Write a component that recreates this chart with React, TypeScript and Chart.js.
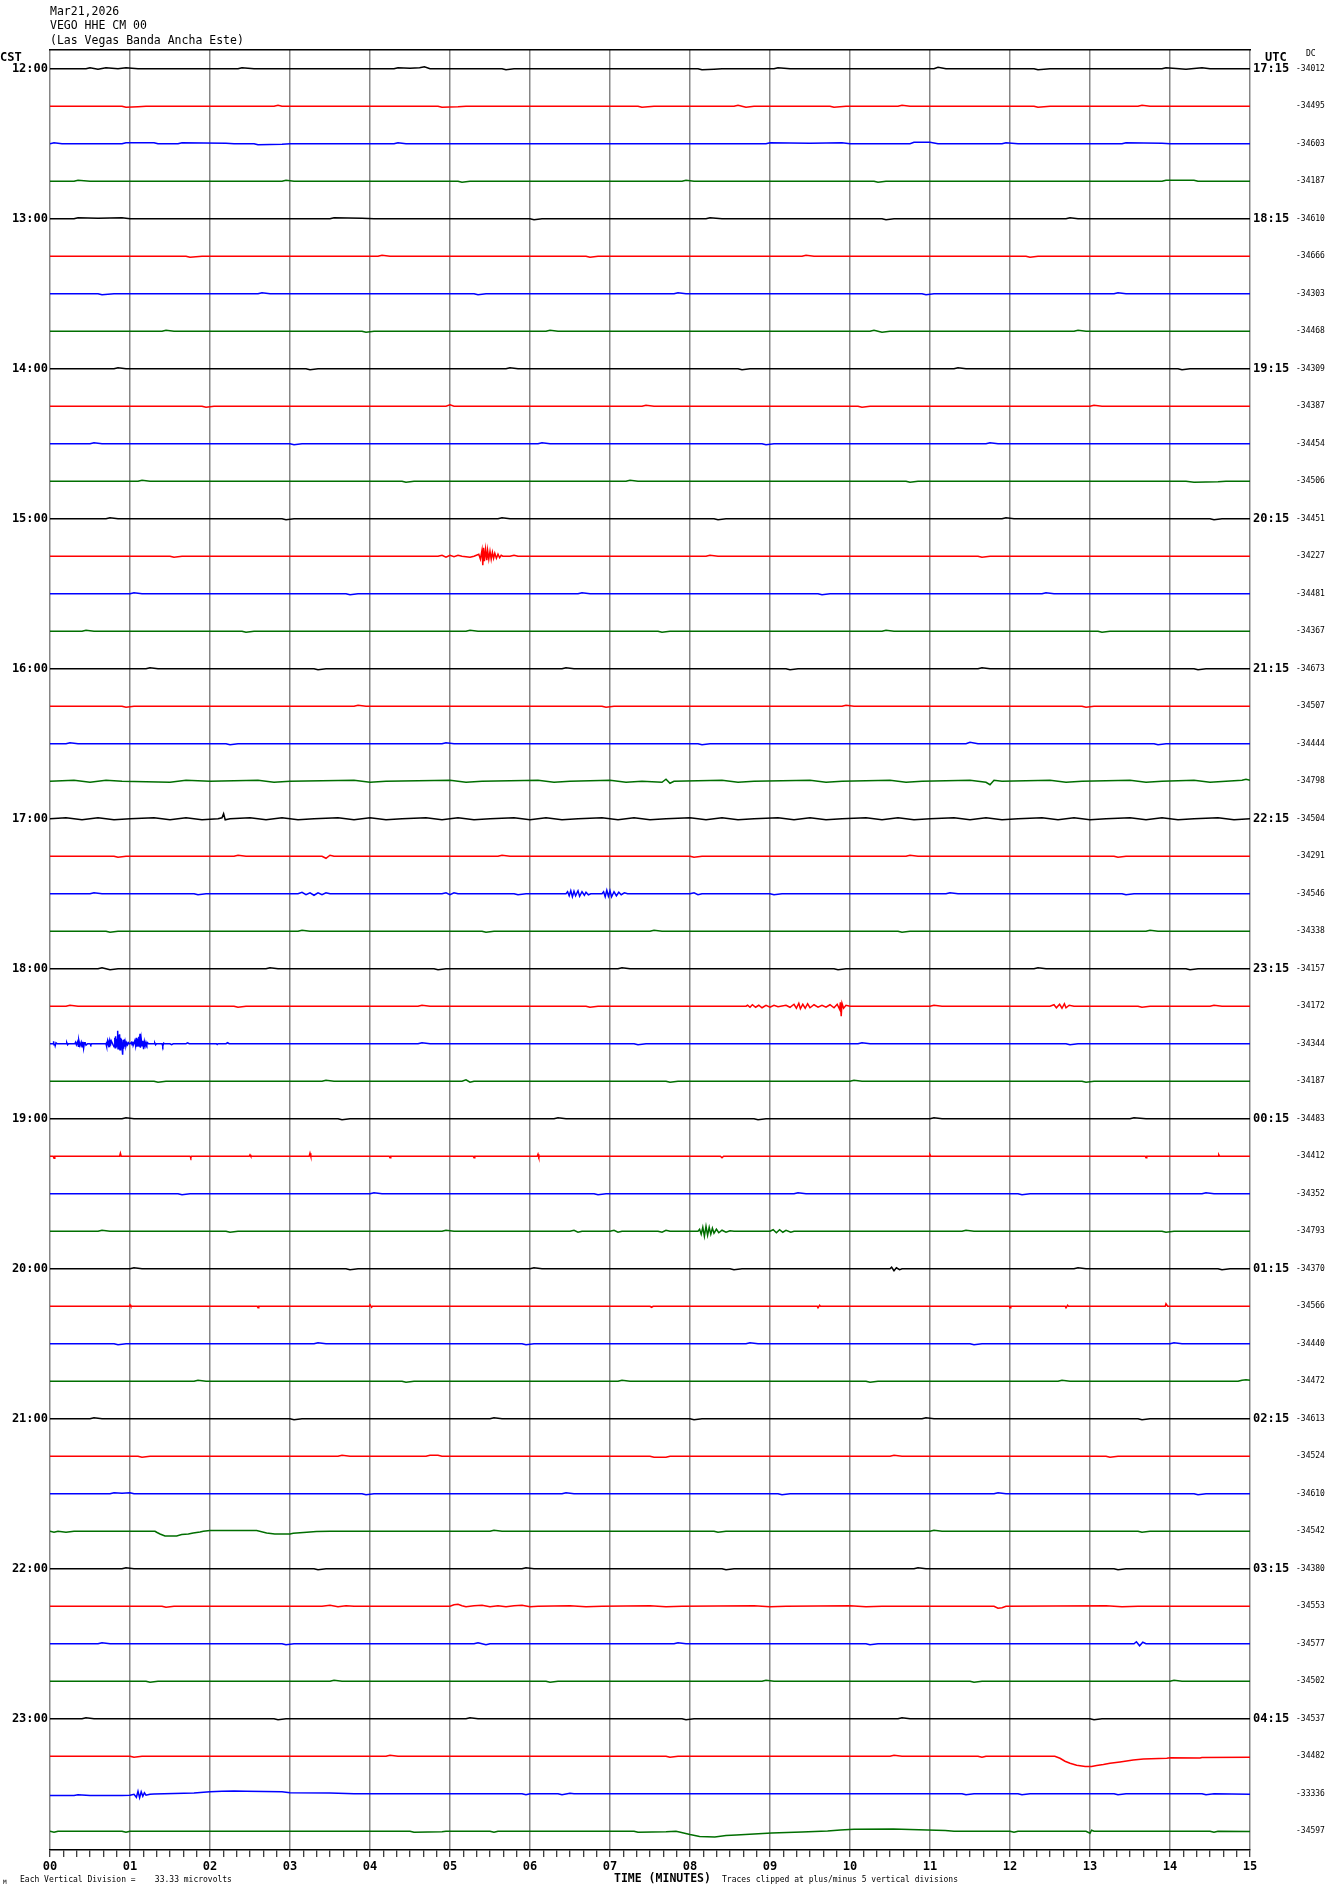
import React, { useEffect, useRef } from "react";
import { Chart, registerables } from "chart.js";

Chart.register(...registerables);

const TITLE_LINES = ["Mar21,2026", "VEGO HHE CM 00", "(Las Vegas Banda Ancha Este)"];
const CST_HOURS = ["12:00", "13:00", "14:00", "15:00", "16:00", "17:00", "18:00", "19:00", "20:00", "21:00", "22:00", "23:00"];
const UTC_HOURS = ["17:15", "18:15", "19:15", "20:15", "21:15", "22:15", "23:15", "00:15", "01:15", "02:15", "03:15", "04:15"];
const DC_VALUES = [
  "-34012", "-34495", "-34603", "-34187",
  "-34610", "-34666", "-34303", "-34468",
  "-34309", "-34387", "-34454", "-34506",
  "-34451", "-34227", "-34481", "-34367",
  "-34673", "-34507", "-34444", "-34798",
  "-34504", "-34291", "-34546", "-34338",
  "-34157", "-34172", "-34344", "-34187",
  "-34483", "-34412", "-34352", "-34793",
  "-34370", "-34566", "-34440", "-34472",
  "-34613", "-34524", "-34610", "-34542",
  "-34380", "-34553", "-34577", "-34502",
  "-34537", "-34482", "-33336", "-34597",
];
const MINUTE_LABELS = ["00", "01", "02", "03", "04", "05", "06", "07", "08", "09", "10", "11", "12", "13", "14", "15"];
const TRACE_COLORS = ["#000000", "#ff0000", "#0000ff", "#006e00"];
const COUNTS_PER_ROW = 37.5;

// Each trace: flat list of [minute, deviation] pairs read from the helicorder
const TRACE_00 = [0,0, 0.45,0, 0.5,1, 0.6,-0.5, 0.7,1, 0.85,0, 0.95,1, 1.1,0, 2.35,0, 2.4,1, 2.55,0, 4.3,0, 4.35,1, 4.5,0.5, 4.62,1, 4.68,2, 4.75,0, 5.65,0, 5.7,-1, 5.8,0, 8.1,0, 8.15,-1, 8.3,-0.5, 8.4,0, 9.05,0, 9.1,1, 9.25,0, 11.05,0, 11.1,1.5, 11.2,0, 12.3,0, 12.35,-1, 12.5,0, 13.9,0, 13.95,1, 14.2,-0.5, 14.4,1, 14.5,0, 15,0];
const TRACE_01 = [0,0, 0.9,0, 0.95,-1, 1.1,-0.5, 1.2,0, 2.8,0, 2.85,1, 2.9,0, 4.85,0, 4.9,-1, 5.1,-0.5, 5.2,0, 7.35,0, 7.4,-1, 7.55,0, 8.55,0, 8.6,1, 8.7,-1, 8.8,0, 9.75,0, 9.8,-1, 9.95,0, 10.6,0, 10.65,1, 10.75,0, 12.3,0, 12.35,-1, 12.5,0, 13.6,0, 13.65,1, 13.75,0, 15,0];
const TRACE_02 = [0,0, 0.05,1, 0.15,0, 0.9,0, 0.95,1, 1.3,1, 1.35,0, 1.6,0, 1.65,1, 2.2,0.5, 2.3,0, 2.55,0, 2.6,-1, 2.9,-0.5, 3.0,0, 4.3,0, 4.35,1, 4.45,0, 8.95,0, 9.0,1, 9.5,0.5, 9.9,1, 10.0,0, 10.75,0, 10.8,1.5, 11.0,1.5, 11.1,0, 11.9,0, 11.95,1, 12.1,0, 13.4,0, 13.45,1, 13.9,0.5, 14.0,0, 15,0];
const TRACE_03 = [0,0, 0.3,0, 0.35,1, 0.5,0, 2.9,0, 2.95,1, 3.05,0, 5.1,0, 5.15,-1, 5.25,0, 7.9,0, 7.95,1, 8.05,0, 10.3,0, 10.35,-1, 10.45,0, 13.9,0, 13.95,1, 14.3,1, 14.35,0, 15,0];
const TRACE_04 = [0,0, 0.3,0, 0.35,1, 0.6,0.5, 0.9,1, 1.0,0, 3.5,0, 3.55,1, 3.9,0.5, 4.05,0, 6.0,0, 6.05,-1, 6.15,0, 8.2,0, 8.25,1, 8.4,0, 10.4,0, 10.45,-1, 10.55,0, 12.7,0, 12.75,1, 12.85,0, 15,0];
const TRACE_05 = [0,0, 1.7,0, 1.75,-1, 1.9,0, 4.1,0, 4.15,1, 4.25,0, 6.7,0, 6.75,-1, 6.85,0, 9.4,0, 9.45,1, 9.55,0, 12.2,0, 12.25,-1, 12.35,0, 15,0];
const TRACE_06 = [0,0, 0.6,0, 0.65,-1, 0.8,0, 2.6,0, 2.65,1, 2.75,0, 5.3,0, 5.35,-1, 5.45,0, 7.8,0, 7.85,1, 7.95,0, 10.9,0, 10.95,-1, 11.05,0, 13.3,0, 13.35,1, 13.45,0, 15,0];
const TRACE_07 = [0,0, 1.4,0, 1.45,1, 1.55,0, 3.9,0, 3.95,-1, 4.05,0, 6.2,0, 6.25,1, 6.35,0, 10.25,0, 10.3,1, 10.4,-1, 10.5,0, 12.8,0, 12.85,1, 12.95,0, 15,0];
const TRACE_08 = [0,0, 0.8,0, 0.85,1, 0.95,0, 3.2,0, 3.25,-1, 3.35,0, 5.7,0, 5.75,1, 5.85,0, 8.6,0, 8.65,-1, 8.75,0, 11.3,0, 11.35,1, 11.45,0, 14.1,0, 14.15,-1, 14.25,0, 15,0];
const TRACE_09 = [0,0, 1.9,0, 1.95,-1, 2.05,0, 4.95,0, 5.0,1.5, 5.05,0, 7.4,0, 7.45,1, 7.55,0, 10.1,0, 10.15,-1, 10.25,0, 13.0,0, 13.05,1, 13.15,0, 15,0];
const TRACE_10 = [0,0, 0.5,0, 0.55,1, 0.65,0, 3.0,0, 3.05,-1, 3.15,0, 6.1,0, 6.15,1, 6.25,0, 8.9,0, 8.95,-1, 9.05,0, 11.7,0, 11.75,1, 11.85,0, 15,0];
const TRACE_11 = [0,0, 1.1,0, 1.15,1, 1.25,0, 4.4,0, 4.45,-1, 4.55,0, 7.2,0, 7.25,1, 7.35,0, 10.7,0, 10.75,-1, 10.85,0, 14.2,0, 14.3,-1, 14.6,-0.5, 14.7,0, 15,0];
const TRACE_12 = [0,0, 0.7,0, 0.75,1, 0.85,0, 2.9,0, 2.95,-1, 3.05,0, 5.6,0, 5.65,1, 5.75,0, 8.3,0, 8.35,-1, 8.45,0, 11.9,0, 11.95,1, 12.05,0, 14.5,0, 14.55,-1, 14.65,0, 15,0];
const TRACE_13 = [0,0, 1.5,0, 1.55,-1, 1.65,0, 4.85,0, 4.9,1, 4.95,-1, 5.0,1, 5.05,-0.5, 5.1,1, 5.15,0, 5.25,-1, 5.3,0, 5.36,2, 5.38,-3, 5.40,6, 5.41,-9, 5.42,8.5, 5.43,-5, 5.445,7, 5.46,-4, 5.47,6, 5.485,-3, 5.50,5, 5.515,-3, 5.53,4, 5.545,-2, 5.56,3, 5.58,-2, 5.60,2, 5.62,-1.5, 5.64,1, 5.66,0, 5.75,0, 5.8,1, 5.85,0, 8.2,0, 8.25,1, 8.35,0, 11.6,0, 11.65,-1, 11.75,0, 15,0];
const TRACE_14 = [0,0, 1.0,0, 1.05,1, 1.15,0, 3.7,0, 3.75,-1, 3.85,0, 6.6,0, 6.65,1, 6.75,0, 9.6,0, 9.65,-1, 9.75,0, 12.4,0, 12.45,1, 12.55,0, 15,0];
const TRACE_15 = [0,0, 0.4,0, 0.45,1, 0.55,0, 2.4,0, 2.45,-1, 2.55,0, 5.2,0, 5.25,1, 5.35,0, 7.6,0, 7.65,-1, 7.75,0, 10.4,0, 10.45,1, 10.55,0, 13.1,0, 13.15,-1, 13.25,0, 15,0];
const TRACE_16 = [0,0, 1.2,0, 1.25,1, 1.35,0, 3.3,0, 3.35,-1, 3.45,0, 6.4,0, 6.45,1, 6.55,0, 9.2,0, 9.25,-1, 9.35,0, 11.6,0, 11.65,1, 11.75,0, 14.3,0, 14.35,-1, 14.45,0, 15,0];
const TRACE_17 = [0,0, 0.9,0, 0.95,-1, 1.05,0, 3.8,0, 3.85,1, 3.95,0, 6.9,0, 6.95,-1, 7.05,0, 9.9,0, 9.95,1, 10.05,0, 12.9,0, 12.95,-1, 13.05,0, 15,0];
const TRACE_18 = [0,0, 0.2,0, 0.25,1, 0.35,0, 2.2,0, 2.25,-1, 2.35,0, 4.9,0, 4.95,1, 5.05,0, 8.1,0, 8.15,-1, 8.25,0, 11.45,0, 11.5,1.5, 11.6,0, 13.8,0, 13.85,-1, 13.95,0, 15,0];
const TRACE_19 = [0,0, 0.3,1, 0.5,-1, 0.7,1, 0.9,0, 1.5,-1, 1.7,1, 2.0,0, 2.6,1, 2.8,-1, 3.0,0, 3.8,1, 4.0,-1, 4.2,0, 5.0,1, 5.2,-1, 5.4,0, 6.1,1, 6.3,-1, 6.5,0, 7.0,1, 7.2,-1, 7.4,0, 7.65,-1, 7.7,2, 7.75,-2, 7.8,0, 8.4,1, 8.6,-1, 8.8,0, 9.5,1, 9.7,-1, 9.9,0, 10.5,1, 10.7,-1, 10.9,0, 11.5,1, 11.7,-1, 11.75,-3.5, 11.8,1, 11.9,0, 12.5,1, 12.7,-1, 12.9,0, 13.5,1, 13.7,-1, 13.9,0, 14.3,1, 14.5,-1, 14.7,0, 14.9,1, 14.95,2, 15,1];
const TRACE_20 = [0,0, 0.2,1, 0.4,-1, 0.6,1, 0.8,-1, 1.0,0, 1.3,1, 1.5,-1, 1.7,1, 1.9,-1, 2.1,0, 2.15,1, 2.17,5, 2.19,-1, 2.25,0, 2.5,1, 2.7,-1, 2.9,1, 3.1,-1, 3.3,0, 3.6,1, 3.8,-1, 4.0,1, 4.2,-1, 4.4,0, 4.7,1, 4.9,-1, 5.1,1, 5.3,-1, 5.5,0, 5.8,1, 6.0,-1, 6.2,1, 6.4,-1, 6.6,0, 6.9,1, 7.1,-1, 7.3,1, 7.5,-1, 7.7,0, 8.0,1, 8.2,-1, 8.4,1, 8.6,-1, 8.8,0, 9.1,1, 9.3,-1, 9.5,1, 9.7,-1, 9.9,0, 10.2,1, 10.4,-1, 10.6,1, 10.8,-1, 11.0,0, 11.3,1, 11.5,-1, 11.7,1, 11.9,-1, 12.1,0, 12.4,1, 12.6,-1, 12.8,1, 13.0,-1, 13.2,0, 13.5,1, 13.7,-1, 13.9,1, 14.1,-1, 14.3,0, 14.6,1, 14.8,-1, 15,0];
const TRACE_21 = [0,0, 0.8,0, 0.85,-1, 0.95,0, 2.3,0, 2.35,1, 2.45,0, 3.4,0, 3.45,-2, 3.5,1, 3.55,0, 5.6,0, 5.65,1, 5.75,0, 8.0,0, 8.05,-1, 8.15,0, 10.7,0, 10.75,1, 10.85,0, 13.3,0, 13.35,-1, 13.45,0, 15,0];
const TRACE_22 = [0,0, 0.5,0, 0.55,1, 0.65,0, 1.8,0, 1.85,-1, 1.95,0, 3.1,0, 3.15,1.5, 3.2,-1, 3.25,1, 3.3,-1.5, 3.35,1, 3.4,-1, 3.45,1, 3.5,0, 4.9,0, 4.95,1, 5.0,-1, 5.05,1, 5.1,0, 5.8,0, 5.85,-1, 5.95,0, 6.45,0, 6.47,2, 6.49,-2, 6.51,3, 6.53,-3, 6.55,2.5, 6.57,-2, 6.6,3, 6.62,-2.5, 6.65,2, 6.68,-1.5, 6.7,1.5, 6.73,-1, 6.76,0, 6.9,0, 6.92,2, 6.94,-3, 6.96,3.5, 6.98,-2.5, 7.0,3, 7.02,-3, 7.05,2, 7.08,-2, 7.11,1.5, 7.14,-1, 7.18,1, 7.22,0, 8.0,0, 8.05,1, 8.1,-1, 8.15,0, 9.0,0, 9.05,-1, 9.15,0, 11.2,0, 11.25,1, 11.35,0, 13.4,0, 13.45,-1, 13.55,0, 15,0];
const TRACE_23 = [0,0, 0.7,0, 0.75,-1, 0.85,0, 3.1,0, 3.15,1, 3.25,0, 5.4,0, 5.45,-1, 5.55,0, 7.5,0, 7.55,1, 7.65,0, 10.6,0, 10.65,-1, 10.75,0, 13.7,0, 13.75,1, 13.85,0, 15,0];
const TRACE_24 = [0,0, 0.6,0, 0.65,1, 0.75,-1, 0.85,0, 2.7,0, 2.75,1, 2.85,0, 4.8,0, 4.85,-1, 4.95,0, 7.1,0, 7.15,1, 7.25,0, 9.8,0, 9.85,-1, 9.95,0, 12.3,0, 12.35,1, 12.45,0, 14.2,0, 14.25,-1, 14.35,0, 15,0];
const TRACE_25 = [0,0, 0.2,0, 0.25,1, 0.35,0, 2.3,0, 2.35,-1, 2.45,0, 4.6,0, 4.65,1, 4.75,0, 6.7,0, 6.75,-1, 6.85,0, 8.7,0, 8.72,1, 8.75,-1, 8.78,1.5, 8.82,-1, 8.86,1, 8.9,-1.5, 8.95,1, 9.0,-1, 9.05,1, 9.1,-0.5, 9.2,1, 9.25,-1, 9.3,2, 9.33,-2, 9.36,3, 9.38,-2.5, 9.41,2, 9.44,-2, 9.47,2.5, 9.5,-1.5, 9.55,1.5, 9.6,-1, 9.65,1, 9.7,-1, 9.75,1.5, 9.8,-1.5, 9.84,2, 9.87,-3, 9.88,4, 9.89,-10, 9.9,3, 9.92,-2, 9.95,1, 10.0,0, 11.0,0, 11.05,1, 11.15,0, 12.5,0, 12.55,1.5, 12.58,-1.5, 12.62,2, 12.65,-2, 12.68,2.5, 12.7,-1.5, 12.74,1, 12.8,0, 13.6,0, 13.65,-1, 13.75,0, 14.5,0, 14.55,1, 14.65,0, 15,0];
const TRACE_26 = [0,0, 0.04,0, 0.045,2.5, 0.05,-1, 0.06,0, 0.065,-2, 0.075,1, 0.09,0, 0.2,0, 0.21,1, 0.22,-1, 0.23,0, 0.31,0, 0.32,1.5, 0.33,-1, 0.345,2, 0.355,-2.5, 0.36,3.5, 0.375,-2, 0.39,1.5, 0.40,-3, 0.41,2, 0.42,-4.5, 0.43,1, 0.44,1, 0.45,-1.5, 0.47,0, 0.50,0, 0.51,-1, 0.52,0, 0.70,0, 0.705,2, 0.71,-2.5, 0.72,3, 0.73,-1, 0.74,2.5, 0.745,-3.5, 0.75,4, 0.755,-2, 0.765,3, 0.80,-3, 0.81,6, 0.815,-4, 0.82,7.5, 0.825,-3, 0.83,5, 0.84,-2, 0.846,13, 0.85,-5, 0.855,9, 0.86,-4, 0.87,9.5, 0.875,-6, 0.88,6, 0.885,-4, 0.89,5, 0.9,-3, 0.908,-11, 0.915,4, 0.92,-5, 0.925,3, 0.93,4.5, 0.935,-3, 0.94,2, 0.95,-2, 0.96,1, 0.97,-1, 0.98,1, 0.99,0, 1.0,0, 1.02,1.5, 1.025,-1, 1.035,2, 1.04,-1.5, 1.06,3, 1.07,-2, 1.08,6, 1.085,-3, 1.09,5, 1.1,-2, 1.11,7, 1.115,-3, 1.125,10, 1.13,-4, 1.14,5, 1.15,-2, 1.16,3, 1.17,-5.5, 1.18,2, 1.19,-2, 1.2,1.5, 1.21,-1, 1.22,1, 1.23,0, 1.3,0, 1.31,0.8, 1.32,-1, 1.33,0, 1.40,0, 1.41,-2.3, 1.42,0.5, 1.43,0, 1.5,0, 1.52,-0.8, 1.54,0, 1.7,0, 1.72,0.8, 1.74,0, 2.08,0, 2.09,-0.8, 2.1,0, 2.2,0, 2.22,1, 2.24,0, 4.6,0, 4.65,1, 4.75,0, 7.3,0, 7.35,-1, 7.45,0, 10.1,0, 10.15,1, 10.25,0, 12.7,0, 12.75,-1, 12.85,0, 15,0];
const TRACE_27 = [0,0, 1.3,0, 1.35,-1, 1.45,0, 3.4,0, 3.45,1, 3.55,0, 5.15,0, 5.2,1.5, 5.25,-1, 5.3,0, 7.7,0, 7.75,-1, 7.85,0, 10.0,0, 10.05,1, 10.15,0, 12.9,0, 12.95,-1, 13.05,0, 15,0];
const TRACE_28 = [0,0, 0.9,0, 0.95,1, 1.05,0, 3.6,0, 3.65,-1, 3.75,0, 6.3,0, 6.35,1, 6.45,0, 8.8,0, 8.85,-1, 8.95,0, 11.0,0, 11.05,1, 11.15,0, 13.5,0, 13.55,1, 13.7,0, 15,0];
const TRACE_29 = [0,0, 0.04,0, 0.05,-2, 0.06,0, 0.87,0, 0.88,3, 0.89,0, 1.75,0, 1.76,-1.5, 1.77,0, 2.49,0, 2.5,1.5, 2.51,0, 3.24,0, 3.25,3, 3.26,0, 4.24,0, 4.25,-1.5, 4.26,0, 5.29,0, 5.3,-1.5, 5.31,0, 6.09,0, 6.1,2, 6.11,-1, 6.12,0, 8.38,0, 8.4,-1.5, 8.42,0, 10.99,0, 11.0,1.5, 11.01,0, 13.69,0, 13.7,-1.5, 13.71,0, 14.6,0, 14.61,1.5, 14.62,0, 15,0];
const TRACE_30 = [0,0, 1.6,0, 1.65,-1, 1.75,0, 4.0,0, 4.05,1, 4.15,0, 6.8,0, 6.85,-1, 6.95,0, 9.3,0, 9.35,1, 9.45,0, 12.1,0, 12.15,-1, 12.25,0, 14.4,0, 14.45,1, 14.55,0, 15,0];
const TRACE_31 = [0,0, 0.6,0, 0.65,1, 0.75,0, 2.2,0, 2.25,-1, 2.35,0, 4.9,0, 4.95,1, 5.05,0, 6.5,0, 6.55,1, 6.6,-1, 6.65,0, 7.0,0, 7.05,1, 7.1,-1, 7.15,0, 7.6,0, 7.65,-1, 7.7,1, 7.75,0, 8.1,0, 8.12,2, 8.14,-3, 8.16,4, 8.18,-5, 8.2,5, 8.22,-4, 8.24,4, 8.26,-3, 8.28,3, 8.3,-2, 8.33,2, 8.36,-1.5, 8.4,1, 8.45,-1, 8.5,0.5, 8.55,0, 9.0,0, 9.04,1.5, 9.08,-1.5, 9.12,1.5, 9.16,-1, 9.2,1, 9.26,-1, 9.3,0, 11.4,0, 11.45,1, 11.55,0, 13.9,0, 13.95,-1, 14.05,0, 15,0];
const TRACE_32 = [0,0, 1.0,0, 1.05,1, 1.15,0, 3.7,0, 3.75,-1, 3.85,0, 6.0,0, 6.05,1, 6.15,0, 8.5,0, 8.55,-1, 8.65,0, 10.5,0, 10.52,1.5, 10.55,-2, 10.58,1, 10.62,-1, 10.65,0, 12.8,0, 12.85,1, 12.95,0, 14.6,0, 14.65,-1, 14.75,0, 15,0];
const TRACE_33 = [0,0, 0.99,0, 1.0,1.5, 1.01,0, 2.59,0, 2.6,-1.5, 2.61,0, 3.99,0, 4.0,1.5, 4.02,-1, 4.03,0, 7.5,0, 7.52,-1, 7.54,0, 9.59,0, 9.6,-1.5, 9.62,1, 9.63,0, 11.99,0, 12.0,-1.5, 12.01,0, 12.69,0, 12.7,-1.5, 12.72,1, 12.73,0, 13.94,0, 13.95,2.5, 13.97,0, 15,0];
const TRACE_34 = [0,0, 0.8,0, 0.85,-1, 0.95,0, 3.3,0, 3.35,1, 3.45,0, 5.9,0, 5.95,-1, 6.05,0, 8.7,0, 8.75,1, 8.85,0, 11.5,0, 11.55,-1, 11.65,0, 14.0,0, 14.05,1, 14.15,0, 15,0];
const TRACE_35 = [0,0, 1.8,0, 1.85,1, 1.95,0, 4.4,0, 4.45,-1, 4.55,0, 7.1,0, 7.15,1, 7.25,0, 10.2,0, 10.25,-1, 10.35,0, 12.6,0, 12.65,1, 12.75,0, 14.85,0, 14.9,1, 14.95,1.5, 15,1];
const TRACE_36 = [0,0, 0.5,0, 0.55,1, 0.65,0, 3.0,0, 3.05,-1, 3.15,0, 5.5,0, 5.55,1, 5.65,0, 8.0,0, 8.05,-1, 8.15,0, 10.9,0, 10.95,1, 11.05,0, 13.6,0, 13.65,-1, 13.75,0, 15,0];
const TRACE_37 = [0,0, 1.1,0, 1.15,-1, 1.25,0, 3.6,0, 3.65,1, 3.75,0, 4.7,0, 4.75,1, 4.85,1, 4.9,0, 7.5,0, 7.55,-1, 7.7,-1, 7.75,0, 10.5,0, 10.55,1, 10.65,0, 13.2,0, 13.25,-1, 13.35,0, 15,0];
const TRACE_38 = [0,0, 0.75,0, 0.8,1, 0.9,0.5, 1.0,1, 1.05,0, 3.9,0, 3.95,-1, 4.05,0, 6.4,0, 6.45,1, 6.55,0, 9.1,0, 9.15,-1, 9.25,0, 11.8,0, 11.85,1, 11.95,0, 14.3,0, 14.35,-1, 14.45,0, 15,0];
const TRACE_39 = [0,0, 0.05,-1, 0.1,0, 0.2,-1, 0.3,0, 1.3125,0, 1.333,-1, 1.375,-2.7, 1.4375,-4.7, 1.583,-4.7, 1.646,-3.3, 1.729,-2.7, 1.79,-1.7, 1.875,-0.7, 1.917,0, 2.0,0.7, 2.583,0.7, 2.708,-1.7, 2.81,-2.7, 3.0,-2.7, 3.04,-2, 3.21,-1, 3.33,-0.3, 3.5,0, 5.5,0, 5.55,1, 5.65,0, 8.3,0, 8.35,-1, 8.45,0, 11.0,0, 11.05,1, 11.15,0, 13.6,0, 13.65,-1, 13.75,0, 15,0];
const TRACE_40 = [0,0, 0.9,0, 0.95,1, 1.05,0, 3.3,0, 3.35,-1, 3.45,0, 5.9,0, 5.95,1, 6.05,0, 8.4,0, 8.45,-1, 8.55,0, 10.8,0, 10.85,1, 10.95,0, 13.3,0, 13.35,-1, 13.45,0, 15,0];
const TRACE_41 = [0,0, 1.4,0, 1.45,-1, 1.55,0, 3.4,0, 3.5,1, 3.6,-0.5, 3.7,0.5, 3.8,0, 5.0,0, 5.05,1.5, 5.1,2, 5.15,0.5, 5.2,-0.5, 5.3,0.5, 5.4,1, 5.5,-0.5, 5.6,0.5, 5.7,-0.5, 5.8,0.5, 5.9,1, 6.0,-0.5, 6.1,0, 6.5,0.5, 6.7,-0.5, 6.9,0, 7.5,0.5, 7.7,-0.5, 7.9,0, 8.8,0.5, 9.0,-0.5, 9.2,0, 10.0,0.5, 10.2,-0.5, 10.4,0, 11.8,0, 11.85,-2, 11.9,-1.5, 11.95,0, 13.2,0.5, 13.4,-0.5, 13.6,0, 15,0];
const TRACE_42 = [0,0, 0.6,0, 0.65,1, 0.75,0, 2.9,0, 2.95,-1, 3.05,0, 5.3,0, 5.35,1, 5.45,-1, 5.5,0, 7.8,0, 7.85,1, 7.95,0, 10.2,0, 10.25,-1, 10.35,0, 13.55,0, 13.58,2, 13.62,-2, 13.66,1.5, 13.7,0, 15,0];
const TRACE_43 = [0,0, 1.2,0, 1.25,-1, 1.35,0, 3.5,0, 3.55,1, 3.65,0, 6.2,0, 6.25,-1, 6.35,0, 8.9,0, 8.95,1, 9.05,0, 11.5,0, 11.55,-1, 11.65,0, 14.0,0, 14.05,1, 14.15,0, 15,0];
const TRACE_44 = [0,0, 0.4,0, 0.45,1, 0.55,0, 2.8,0, 2.85,-1, 2.95,0, 5.2,0, 5.25,1, 5.35,0, 7.9,0, 7.95,-1, 8.05,0, 10.6,0, 10.65,1, 10.75,0, 13.0,0, 13.05,-1, 13.15,0, 15,0];
const TRACE_45 = [0,0, 1.0,0, 1.05,-1, 1.15,0, 4.2,0, 4.25,1, 4.35,0, 7.7,0, 7.75,-1, 7.85,0, 10.5,0, 10.55,1, 10.65,0, 11.6,0, 11.65,-1, 11.7,0, 12.56,0, 12.625,-2, 12.6875,-5, 12.75,-7, 12.833,-9, 12.94,-10.3, 13.02,-10.3, 13.083,-9.3, 13.167,-8.3, 13.25,-7, 13.375,-5.7, 13.54,-3.7, 13.667,-2.7, 13.96,-2, 14.0,-1.5, 14.375,-1.7, 14.4,-1.2, 15,-1];
const TRACE_46 = [0,-1.7, 0.3,-1.7, 0.35,-1, 0.5,-1.7, 0.9,-1.7, 1.0,-1.5, 1.05,-0.5, 1.08,-3.5, 1.1,2.5, 1.12,-4, 1.14,2, 1.16,-2.5, 1.18,1, 1.2,-1.5, 1.25,-0.5, 1.3,-0.3, 1.8,0.7, 2.0,2, 2.15,2.5, 2.3,2.8, 2.45,2.5, 2.9,2, 3.0,1, 3.5,0.8, 3.8,0, 5.9,0, 5.95,-1, 6.0,0, 6.35,0, 6.4,-1, 6.5,0.5, 6.55,0, 11.4,0, 11.45,-1, 11.55,0, 12.1,0, 12.15,-1, 12.25,0, 13.3,0, 13.35,-1, 13.45,0, 14.4,0, 14.45,-1, 14.55,0, 15,-0.5];
const TRACE_47 = [0,0, 0.05,-1, 0.1,0, 0.9,0, 0.95,-1, 1.0,0, 4.5,0, 4.55,-1, 4.9,-0.5, 4.95,0, 5.5,0, 5.55,-1, 5.6,0, 7.3,0, 7.35,-1, 7.7,-0.5, 7.825,0, 7.88,-1, 8.0,-3.3, 8.12,-5.3, 8.31,-5.7, 8.45,-4.3, 8.58,-3.7, 9.02,-1.7, 9.4,-0.7, 9.72,0.3, 9.88,1.3, 10.05,2, 10.54,2.3, 10.75,1.7, 11.19,0.7, 11.3,0, 12.0,0, 12.05,-1, 12.1,0, 12.95,0, 13.0,-2, 13.02,1, 13.05,0, 14.5,0, 14.55,-1, 14.6,0, 15,-0.3];

const TRACES = [
  TRACE_00, TRACE_01, TRACE_02, TRACE_03, TRACE_04, TRACE_05, TRACE_06, TRACE_07,
  TRACE_08, TRACE_09, TRACE_10, TRACE_11, TRACE_12, TRACE_13, TRACE_14, TRACE_15,
  TRACE_16, TRACE_17, TRACE_18, TRACE_19, TRACE_20, TRACE_21, TRACE_22, TRACE_23,
  TRACE_24, TRACE_25, TRACE_26, TRACE_27, TRACE_28, TRACE_29, TRACE_30, TRACE_31,
  TRACE_32, TRACE_33, TRACE_34, TRACE_35, TRACE_36, TRACE_37, TRACE_38, TRACE_39,
  TRACE_40, TRACE_41, TRACE_42, TRACE_43, TRACE_44, TRACE_45, TRACE_46, TRACE_47,
];

const FONT = "'DejaVu Sans Mono', 'Liberation Mono', monospace";

function toPoints(flat: number[], row: number) {
  const pts: { x: number; y: number }[] = [];
  for (let k = 0; k + 1 < flat.length; k += 2) {
    pts.push({ x: flat[k], y: row + 0.5 - flat[k + 1] / COUNTS_PER_ROW });
  }
  return pts;
}

type TextProps = { text: string; left: number; cy: number; size: number; bold?: boolean };
function Label({ text, left, cy, size, bold }: TextProps) {
  return (
    <div
      style={{
        position: "absolute",
        left,
        top: cy - size * 0.48,
        fontFamily: FONT,
        fontSize: size,
        lineHeight: 1,
        fontWeight: bold ? "bold" : "normal",
        whiteSpace: "pre",
        color: "#000",
      }}
    >
      {text}
    </div>
  );
}

export default function App() {
  const canvasRef = useRef<HTMLCanvasElement | null>(null);

  useEffect(() => {
    document.body.style.margin = "0";
    const canvas = canvasRef.current;
    if (!canvas) return;

    const datasets = TRACES.map((flat, i) => ({
      data: toPoints(flat, i),
      borderColor: TRACE_COLORS[i % 4],
      backgroundColor: TRACE_COLORS[i % 4],
      borderWidth: 1.5,
      pointRadius: 0,
      tension: 0,
      fill: false,
      xAxisID: "x",
      yAxisID: "y",
    }));

    const rowTicks = (rows: number[]) => rows.map((r) => ({ value: r + 0.5 }));
    const hourRows = CST_HOURS.map((_, h) => h * 4);
    const allRows = DC_VALUES.map((_, r) => r);

    const chart = new Chart(canvas, {
      type: "line",
      data: { datasets },
      options: {
        animation: false,
        responsive: false,
        devicePixelRatio: 1,
        layout: { padding: { top: 50, left: 0, right: 0, bottom: 0 } },
        plugins: { legend: { display: false }, tooltip: { enabled: false }, title: { display: false } },
        scales: {
          x: {
            type: "linear",
            position: "bottom",
            min: 0,
            max: 15,
            afterBuildTicks: (s: any) => {
              s.ticks = Array.from({ length: 91 }, (_, k) => ({ value: k / 6 }));
            },
            afterFit: (s: any) => {
              s.height = 44;
            },
            ticks: {
              autoSkip: false,
              maxRotation: 0,
              minRotation: 0,
              padding: 3,
              color: "#000",
              font: { family: FONT, size: 12, weight: "bold" },
              callback: (_v: any, idx: number) => (idx % 6 === 0 ? MINUTE_LABELS[idx / 6] : ""),
            },
            grid: {
              display: true,
              drawOnChartArea: true,
              drawTicks: true,
              tickLength: 7,
              lineWidth: 1.5,
              color: (ctx: any) => (ctx.index % 6 === 0 ? "#858585" : "rgba(0,0,0,0)"),
              tickColor: "#000",
              tickWidth: 1,
            },
            border: { display: true, color: "#000", width: 1.5 },
          },
          xTop: {
            type: "linear",
            position: "top",
            min: 0,
            max: 15,
            display: true,
            afterFit: (s: any) => {
              s.height = 0;
            },
            ticks: { display: false },
            grid: { display: false, drawTicks: false },
            border: { display: true, color: "#000", width: 1.5 },
          },
          y: {
            type: "linear",
            position: "left",
            min: 0,
            max: 48,
            reverse: true,
            afterBuildTicks: (s: any) => {
              s.ticks = rowTicks(hourRows);
            },
            afterFit: (s: any) => {
              s.width = 50;
            },
            ticks: {
              autoSkip: false,
              padding: 2,
              color: "#000",
              font: { family: FONT, size: 12, weight: "bold" },
              callback: (_v: any, idx: number) => CST_HOURS[idx],
            },
            grid: { display: false, drawTicks: false },
            border: { display: false },
          },
          yUTC: {
            type: "linear",
            position: "right",
            weight: 0,
            min: 0,
            max: 48,
            reverse: true,
            afterBuildTicks: (s: any) => {
              s.ticks = rowTicks(hourRows);
            },
            afterFit: (s: any) => {
              s.width = 45;
            },
            ticks: {
              autoSkip: false,
              padding: 3,
              color: "#000",
              font: { family: FONT, size: 12, weight: "bold" },
              callback: (_v: any, idx: number) => UTC_HOURS[idx],
            },
            grid: { display: false, drawTicks: false },
            border: { display: false },
          },
          yDC: {
            type: "linear",
            position: "right",
            weight: 1,
            min: 0,
            max: 48,
            reverse: true,
            afterBuildTicks: (s: any) => {
              s.ticks = rowTicks(allRows);
            },
            afterFit: (s: any) => {
              s.width = 35;
            },
            ticks: {
              autoSkip: false,
              padding: 1,
              color: "#000",
              font: { family: FONT, size: 8 },
              callback: (_v: any, idx: number) => DC_VALUES[idx],
            },
            grid: { display: false, drawTicks: false },
            border: { display: false },
          },
        },
      } as any,
    });

    return () => {
      chart.destroy();
    };
  }, []);

  return (
    <div style={{ position: "relative", width: 1330, height: 1894, background: "#fff", overflow: "hidden" }}>
      <canvas ref={canvasRef} width={1330} height={1894} style={{ position: "absolute", left: 0, top: 0 }} />
      <Label text={TITLE_LINES[0]} left={50} cy={12} size={11.5} />
      <Label text={TITLE_LINES[1]} left={50} cy={26} size={11.5} />
      <Label text={TITLE_LINES[2]} left={50} cy={41} size={11.5} />
      <Label text="CST" left={0} cy={57} size={12} bold />
      <Label text="UTC" left={1265} cy={56.5} size={12} bold />
      <Label text="DC" left={1306} cy={54} size={8} />
      <Label text="M" left={3} cy={1882} size={6} />
      <Label text="Each Vertical Division =    33.33 microvolts" left={20} cy={1880} size={8} />
      <Label text="TIME (MINUTES)" left={614} cy={1879} size={11.5} bold />
      <Label text="Traces clipped at plus/minus 5 vertical divisions" left={722} cy={1880} size={8} />
    </div>
  );
}
